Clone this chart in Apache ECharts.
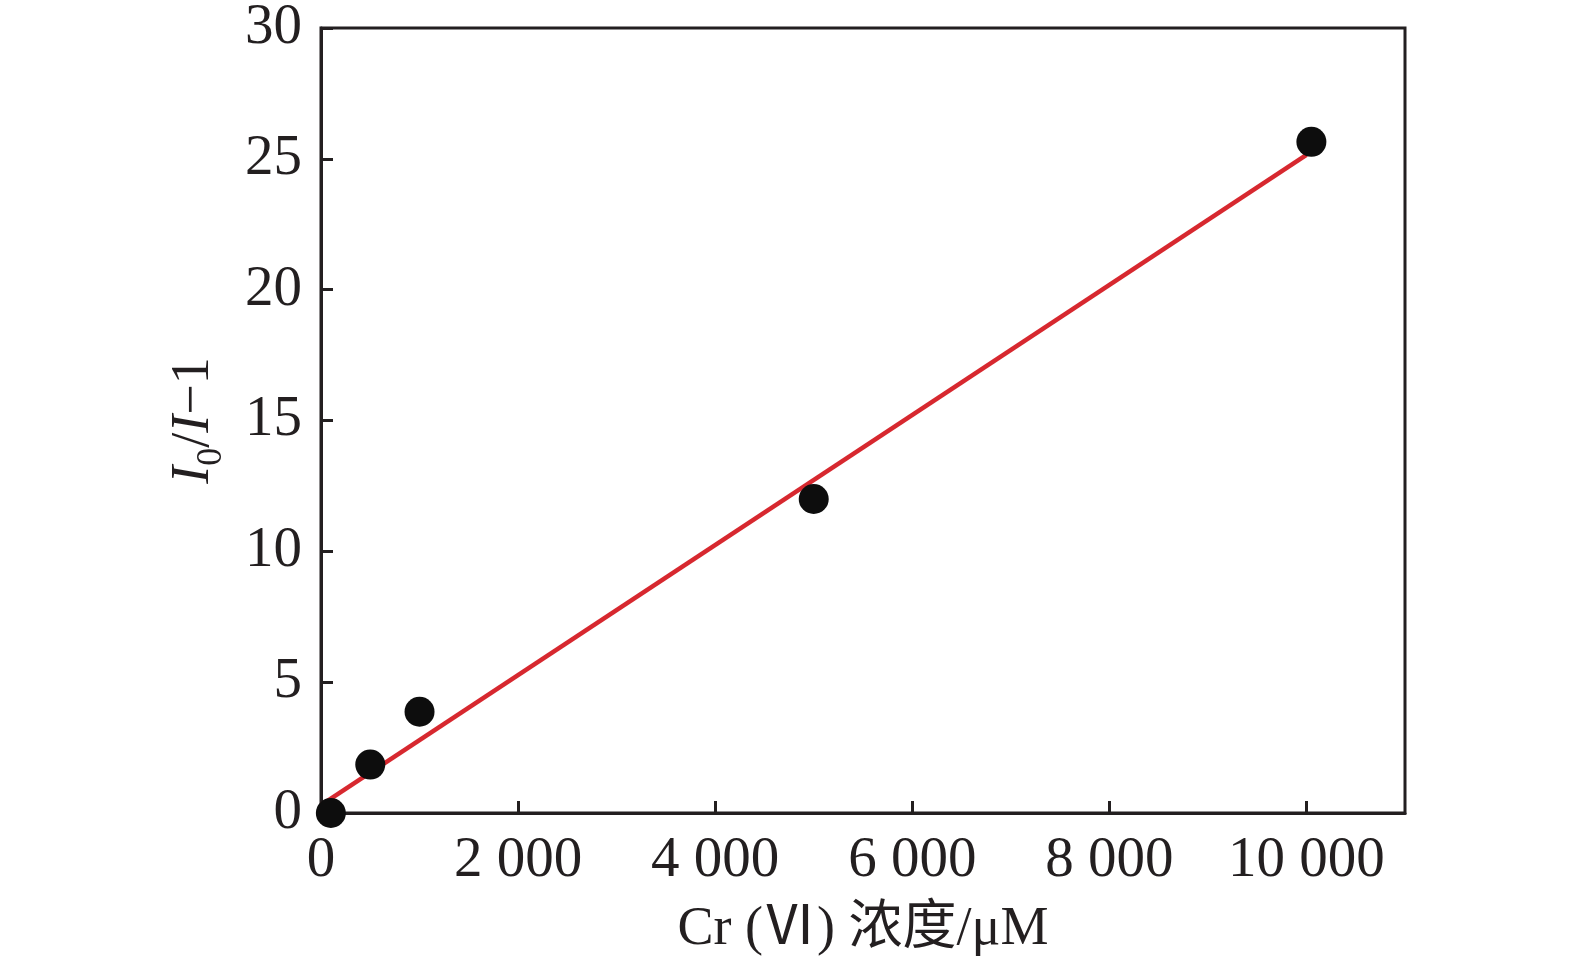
<!DOCTYPE html>
<html>
<head>
<meta charset="utf-8">
<script src="https://cdn.jsdelivr.net/npm/echarts@6/dist/echarts.min.js"></script>
<style>
html,body{margin:0;padding:0;background:#fff;}
#chart{width:1575px;height:962px;}
</style>
</head>
<body>
<div id="chart"></div>
<script>
// measured points (Cr(VI) concentration, I0/I-1)
var concData = [100, 500, 1000, 5000, 10050];
var ratioData = [0, 1.85, 3.87, 12.0, 25.65];
// fitted line end points
var fitX = [0, 10000];
var fitY = [0.3, 25.15];
var xTicks = [0, 2000, 4000, 6000, 8000, 10000];

var pts = [];
for (var i = 0; i < concData.length; i++) {
	pts.push([concData[i], ratioData[i]]);
}
var fit = [];
for (var j = 0; j < fitX.length; j++) {
	fit.push([fitX[j], fitY[j]]);
}

var font = '"Liberation Serif", "Noto Sans CJK SC", serif';
var ink = '#231f20';

var myChart = echarts.init(document.getElementById('chart'));
myChart.setOption({
	animation: false,
	backgroundColor: '#fff',
	grid: {
		left: 321, right: 170, top: 28, bottom: 149,
		outerBoundsMode: 'none',
		containLabel: false,
		show: true, borderColor: ink, borderWidth: 3
	},
	xAxis: {
		type: 'value',
		min: 0, max: 11000, interval: 2000,
		name: 'Cr (Ⅵ) 浓度/μM',
		nameLocation: 'middle',
		nameGap: 90,
		nameTextStyle: {fontFamily: font, fontSize: 54, color: ink},
		axisLine: {show: true, lineStyle: {color: ink, width: 3}},
		axisTick: {show: true, inside: true, length: 12, lineStyle: {color: ink, width: 3}},
		splitLine: {show: false},
		axisLabel: {
			fontFamily: font, fontSize: 57, color: ink, margin: 20,
			showMaxLabel: false,
			formatter: function (v) {
				if (xTicks.indexOf(v) < 0) return '';
				var s = String(v);
				if (v >= 1000) s = s.slice(0, s.length - 3) + ' ' + s.slice(-3);
				return s;
			}
		}
	},
	yAxis: {
		type: 'value',
		min: 0, max: 30, interval: 5,
		name: '{i|I}{sub|0}{n|/}{i|I}{n|−1}',
		nameLocation: 'middle',
		nameRotate: 90,
		nameGap: 100,
		nameTextStyle: {
			fontFamily: font, fontSize: 54, color: ink,
			rich: {
				i: {fontFamily: font, fontSize: 54, fontStyle: 'italic', color: ink, verticalAlign: 'bottom', lineHeight: 58},
				n: {fontFamily: font, fontSize: 54, color: ink, verticalAlign: 'bottom', lineHeight: 58},
				sub: {fontFamily: font, fontSize: 36, color: ink, verticalAlign: 'bottom', lineHeight: 38, padding: [0, 0, -9, 0]}
			}
		},
		axisLine: {show: true, lineStyle: {color: ink, width: 3}},
		axisTick: {show: true, inside: true, length: 12, lineStyle: {color: ink, width: 3}},
		splitLine: {show: false},
		axisLabel: {fontFamily: font, fontSize: 57, color: ink, margin: 19}
	},
	series: [
		{
			type: 'line',
			data: fit,
			symbol: 'none',
			lineStyle: {color: '#d7282f', width: 4.5},
			z: 2
		},
		{
			type: 'scatter',
			data: pts,
			symbol: 'circle',
			symbolSize: 30,
			itemStyle: {color: '#0d0d0d', opacity: 1},
			z: 3
		}
	]
});
window.onresize = myChart.resize;
</script>
</body>
</html>
